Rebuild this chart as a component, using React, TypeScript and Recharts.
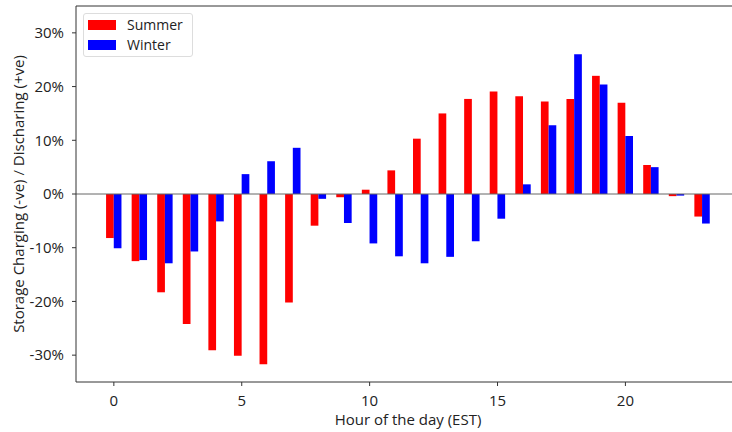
import { BarChart, Bar, XAxis, YAxis, ReferenceLine } from "recharts";

const hours = [
  0, 1, 2, 3, 4, 5, 6, 7, 8, 9, 10, 11, 12, 13, 14, 15, 16, 17, 18, 19, 20, 21,
  22, 23,
];
const summer = [
  -8.2, -12.5, -18.3, -24.2, -29.1, -30.1, -31.7, -20.2, -5.9, -0.6, 0.8, 4.4,
  10.3, 15.0, 17.7, 19.1, 18.2, 17.2, 17.7, 22.0, 17.0, 5.4, -0.4, -4.2,
];
const winter = [
  -10.1, -12.3, -12.9, -10.7, -5.1, 3.7, 6.1, 8.6, -0.9, -5.4, -9.2, -11.6,
  -12.9, -11.7, -8.8, -4.6, 1.8, 12.8, 26.0, 20.4, 10.8, 5.0, -0.3, -5.5,
];
const xTicks = [0, 5, 10, 15, 20];
const yTicks = [-30, -20, -10, 0, 10, 20, 30];

const data = hours.map((h, i) => ({
  hour: h,
  Summer: summer[i],
  Winter: winter[i],
}));

const font = "'Open Sans', sans-serif";
const axisColor = "#333";
const textColor = "#222";

function LegendBox() {
  return (
    <div
      style={{
        position: "absolute",
        left: 83,
        top: 13,
        border: "1px solid #ddd",
        borderRadius: 3,
        background: "#fff",
        padding: "1px 9px 1px 4px",
        fontFamily: font,
        fontSize: 14,
        color: textColor,
        lineHeight: "20px",
      }}
    >
      {[
        ["Summer", "#ff0000"],
        ["Winter", "#0000ff"],
      ].map(([name, color]) => (
        <div key={name} style={{ display: "flex", alignItems: "center" }}>
          <span
            style={{
              display: "inline-block",
              width: 28,
              height: 10,
              background: color,
              marginRight: 11,
            }}
          />
          {name}
        </div>
      ))}
    </div>
  );
}

export default function App() {
  return (
    <div
      style={{
        position: "absolute",
        left: 0,
        top: 0,
        width: 732,
        height: 432,
        overflow: "hidden",
        background: "#fff",
      }}
    >
      <BarChart
        width={745}
        height={432}
        data={data}
        margin={{ top: 6, right: 5, bottom: 0, left: 0 }}
        barGap={0}
      >
        <XAxis
          dataKey="hour"
          type="number"
          domain={[-1.48, 24.48]}
          ticks={xTicks}
          allowDataOverflow
          height={50}
          stroke={axisColor}
          tickSize={4}
          tickMargin={9}
          tick={{ fontFamily: font, fontSize: 15, fill: textColor }}
          label={{
            content: ({ viewBox }: any) => (
              <text
                x={408}
                y={viewBox.y + 43}
                textAnchor="middle"
                fontFamily={font}
                fontSize={15}
                fill={textColor}
              >
                Hour of the day (EST)
              </text>
            ),
          }}
        />
        <YAxis
          domain={[-35, 35]}
          ticks={yTicks}
          width={76}
          stroke={axisColor}
          tickSize={4}
          tickMargin={8}
          tickFormatter={(v: number) => `${v}%`}
          tick={{ fontFamily: font, fontSize: 15, fill: textColor }}
          label={{
            content: ({ viewBox }: any) => {
              const cx = 24;
              const cy = viewBox.y + viewBox.height / 2;
              return (
                <text
                  x={cx}
                  y={cy}
                  transform={`rotate(-90 ${cx} ${cy})`}
                  textAnchor="middle"
                  fontFamily={font}
                  fontSize={15}
                  fill={textColor}
                >
                  Storage Charging (-ve) / Discharing (+ve)
                </text>
              );
            },
          }}
        />
        <ReferenceLine y={35} stroke={axisColor} />
        <ReferenceLine y={0} stroke="#666" />
        <Bar
          dataKey="Summer"
          fill="#ff0000"
          barSize={7.7}
          isAnimationActive={false}
        />
        <Bar
          dataKey="Winter"
          fill="#0000ff"
          barSize={7.7}
          isAnimationActive={false}
        />
      </BarChart>
      <LegendBox />
    </div>
  );
}
